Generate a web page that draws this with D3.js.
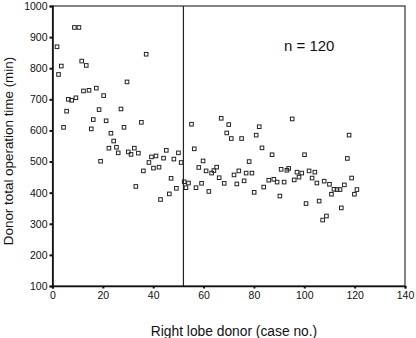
<!DOCTYPE html>
<html>
<head>
<meta charset="utf-8">
<script src="https://cdn.jsdelivr.net/npm/d3@7"></script>
<style>
  html, body { margin: 0; padding: 0; background: #fff; }
  svg { display: block; font-family: Arial, "Liberation Sans", sans-serif; }
</style>
</head>
<body>
<svg id="chart" width="416" height="338"></svg>
<script>
// Donor case number (x) and total operation time in minutes (y)
const caseNo = [
  1.8, 2.4, 3.5, 4.4, 5.6, 6.3, 7.6, 8.7, 9.3, 10.5,
  11.6, 12.3, 13.4, 14.5, 15.4, 16.2, 17.4, 18.5, 19.1, 20.3,
  21.3, 22.4, 23.2, 24.3, 25.4, 26.1, 27.2, 28.4, 29.6, 30.1,
  31.2, 32.5, 33.1, 34.1, 35.3, 36.1, 37.2, 38.3, 39.3, 40.1,
  41.1, 42.3, 42.9, 44.1, 45.2, 46.4, 47.1, 48.2, 49.2, 50.0,
  51.1, 52.3, 53.0, 54.0, 55.2, 56.3, 57.0, 58.1, 59.2, 59.8,
  61.0, 62.1, 63.2, 64.1, 65.2, 66.2, 67.0, 68.2, 69.2, 70.0,
  71.0, 72.1, 73.2, 74.0, 75.1, 76.1, 76.9, 78.1, 79.2, 80.1,
  80.9, 82.1, 83.2, 83.9, 85.9, 87.2, 87.9, 89.2, 90.3, 90.8,
  92.0, 93.1, 93.8, 95.2, 96.0, 97.1, 97.9, 99.0, 100.1, 100.7,
  101.9, 103.1, 104.2, 105.0, 105.9, 107.3, 107.9, 108.8, 110.0, 110.8,
  111.8, 113.0, 114.2, 114.7, 115.9, 117.1, 117.8, 118.8, 119.9, 120.9
];
const opTime = [
  869, 780, 807, 610, 662, 700, 697, 931, 705, 931,
  823, 727, 809, 729, 605, 635, 736, 667, 501, 712,
  631, 543, 591, 566, 546, 528, 669, 610, 756, 531,
  523, 543, 420, 527, 626, 470, 845, 497, 515, 479,
  518, 482, 378, 511, 536, 396, 446, 508, 414, 528,
  497, 435, 416, 431, 620, 541, 416, 481, 430, 502,
  470, 404, 463, 471, 482, 448, 639, 430, 592, 619,
  574, 457, 428, 470, 574, 438, 463, 500, 463, 401,
  585, 612, 544, 418, 440, 522, 443, 434, 389, 475,
  434, 472, 478, 637, 441, 466, 450, 463, 522, 365,
  470, 447, 466, 431, 373, 312, 437, 325, 427, 395,
  411, 410, 410, 351, 425, 510, 585, 447, 395, 410
];
const xTicks = [0, 20, 40, 60, 80, 100, 120, 140];
const yTicks = [100, 200, 300, 400, 500, 600, 700, 800, 900, 1000];
const dividerCase = 52;
const sampleLabel = "n = 120";
const xTitle = "Right lobe donor (case no.)";
const yTitle = "Donor total operation time (min)";

const svg = d3.select("#chart");
const plotLeft = 52.5, plotRight = 405, plotTop = 6, plotBottom = 286;

const x = d3.scaleLinear().domain([0, 140]).range([plotLeft, plotRight]);
const y = d3.scaleLinear().domain([100, 1000]).range([plotBottom, plotTop]);

// plot frame
svg.append("rect")
  .attr("x", plotLeft).attr("y", plotTop)
  .attr("width", plotRight - plotLeft).attr("height", plotBottom - plotTop)
  .attr("fill", "none").attr("stroke", "#333").attr("stroke-width", 1.2);

// y axis
const yAxis = svg.append("g")
  .attr("transform", `translate(${plotLeft},0)`)
  .call(d3.axisLeft(y).tickValues(yTicks).tickSize(3).tickPadding(2).tickFormat(d3.format("d")));
yAxis.select(".domain").attr("stroke", "#111").attr("stroke-width", 1.6);
yAxis.selectAll(".tick line").attr("stroke", "#111").attr("stroke-width", 2);
yAxis.selectAll(".tick text").attr("font-size", "10.5px").attr("fill", "#111")
  .attr("font-family", "Arial, 'Liberation Sans', sans-serif");

// x axis
const xAxis = svg.append("g")
  .attr("transform", `translate(0,${plotBottom})`)
  .call(d3.axisBottom(x).tickValues(xTicks).tickSize(2.5).tickPadding(3.5).tickFormat(d3.format("d")));
xAxis.select(".domain").attr("stroke", "#111").attr("stroke-width", 1.6);
xAxis.selectAll(".tick line").attr("stroke", "#111").attr("stroke-width", 2);
xAxis.selectAll(".tick text").attr("font-size", "10.5px").attr("fill", "#111")
  .attr("font-family", "Arial, 'Liberation Sans', sans-serif");

// vertical divider at case 52
svg.append("line")
  .attr("x1", x(dividerCase)).attr("x2", x(dividerCase))
  .attr("y1", y(100)).attr("y2", y(1000))
  .attr("stroke", "#222").attr("stroke-width", 1.2);

// open square markers
const s = 3.6;
svg.append("g").selectAll("rect")
  .data(caseNo.map((c, i) => [c, opTime[i]]))
  .join("rect")
  .attr("x", d => x(d[0]) - s / 2)
  .attr("y", d => y(d[1]) - s / 2)
  .attr("width", s).attr("height", s)
  .attr("fill", "none").attr("stroke", "#222").attr("stroke-width", 1);

// sample size annotation
svg.append("text")
  .attr("x", 284).attr("y", 51)
  .attr("font-size", "15px").attr("fill", "#111")
  .text(sampleLabel);

// axis titles
svg.append("text")
  .attr("x", 234).attr("y", 335.5)
  .attr("text-anchor", "middle")
  .attr("font-size", "13.8px").attr("fill", "#111")
  .text(xTitle);

svg.append("text")
  .attr("transform", "translate(13,151) rotate(-90)")
  .attr("text-anchor", "middle")
  .attr("font-size", "13.4px").attr("fill", "#111")
  .text(yTitle);
</script>
</body>
</html>
